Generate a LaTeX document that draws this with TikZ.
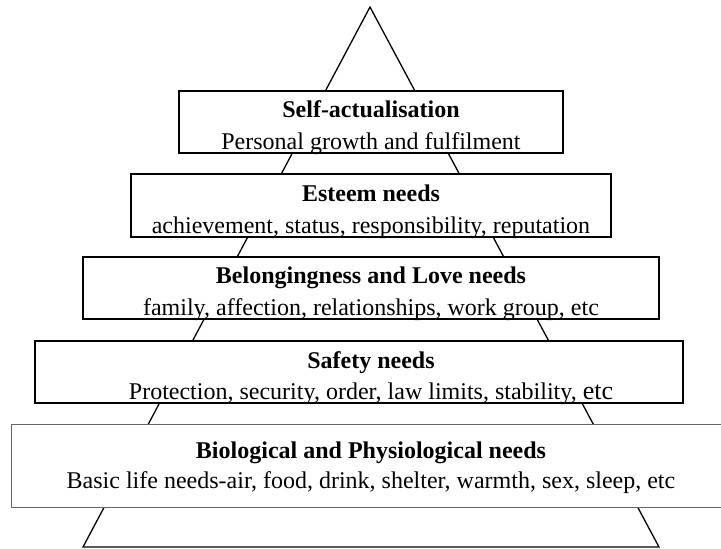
\documentclass[tikz,border=0pt]{standalone}
\usepackage{fontspec}
\setmainfont{Liberation Serif}
\begin{document}
\begin{tikzpicture}[x=1pt,y=-1pt,
  level/.style={draw=black,line width=1.4pt,fill=white},
  bottom/.style={draw=black!60,line width=0.9pt,fill=white},
  head/.style={anchor=base,font=\fontsize{24}{28}\selectfont\bfseries},
  body/.style={anchor=base,font=\fontsize{24}{28}\selectfont}]
\useasboundingbox (0,0) rectangle (721,549);

%Pyramid Outline
\draw [line width=1.3pt] (83,547) -- (370,7) -- (659,547) -- cycle;

%Level Boxes
\filldraw [level] (179,91) rectangle (563,153);
\filldraw [level] (131,174) rectangle (611,237);
\filldraw [level] (83,257) rectangle (659,319);
\filldraw [level] (35,341) rectangle (683,403);
\filldraw [bottom] (11,424) rectangle (740,507);

%Labels
\node [head] (selfhead) at (371,117) {Self-actualisation};
\node [body] (selfbody) at (371,149) {Personal growth and fulfilment};
\node [head] (esteemhead) at (371,201) {Esteem needs};
\node [body] (esteembody) at (371,233) {achievement, status, responsibility, reputation};
\node [head] (lovehead) at (371,283) {Belongingness and Love needs};
\node [body] (lovebody) at (371,315) {family, affection, relationships, work group, etc};
\node [head] (safetyhead) at (371,368) {Safety needs};
\node [body] (safetybody) at (371,399) {Protection, security, order, law limits, stability, {\fontsize{26}{28}\selectfont etc}};
\node [head] (biohead) at (371,458) {Biological and Physiological needs};
\node [body] (biobody) at (371,488) {Basic life needs-air, food, drink, shelter, warmth, sex, sleep, etc};
\end{tikzpicture}
\end{document}
